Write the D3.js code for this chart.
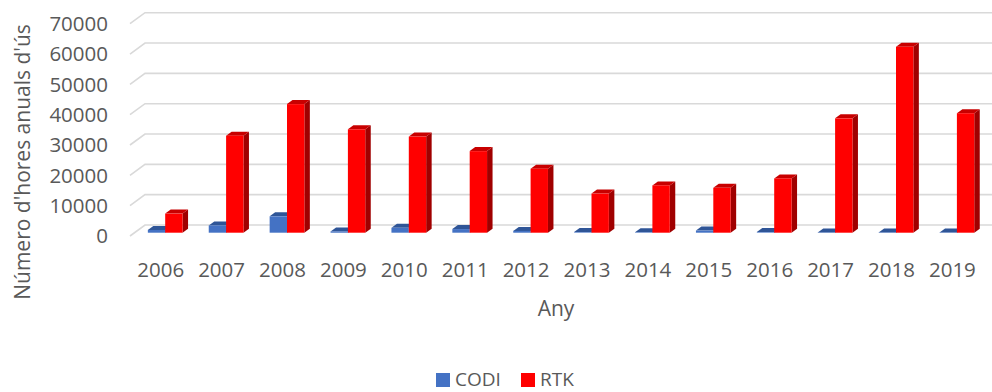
<!DOCTYPE html>
<html>
<head>
<meta charset="utf-8">
<script src="https://cdn.jsdelivr.net/npm/d3@7/dist/d3.min.js"></script>
<style>
  html, body { margin: 0; padding: 0; background: #fff; }
  svg { display: block; font-family: "Open Sans", sans-serif; }
</style>
</head>
<body>
<svg id="chart" width="992" height="392"></svg>
<script>
// Annual usage hours per service
const years = ["2006","2007","2008","2009","2010","2011","2012","2013","2014","2015","2016","2017","2018","2019"];
const codi  = [900, 2400, 5400, 400, 1600, 1200, 600, 200, 150, 700, 200, 100, 100, 100];
const rtk   = [6300, 32000, 42400, 34100, 31700, 26900, 21100, 12900, 15600, 14800, 17900, 37700, 61300, 39400];
const seriesNames = ["CODI", "RTK"];
const yTicks = [0, 10000, 20000, 30000, 40000, 50000, 60000, 70000];

const palette = {
  CODI: { front: "#4472C4", top: "#2F5597", side: "#2B4E8C" },
  RTK:  { front: "#FF0000", top: "#C80000", side: "#A00000" }
};

const svg = d3.select("#chart");

// Oblique projection: floor depth vector from back wall to front edge
const depth = { dx: -15, dy: 11 };
const barT = 0.7;          // bar front face position along the depth
const barDepth = { dx: 5.5, dy: -4 };

// Scales on the back wall plane
const y = d3.scaleLinear().domain([0, 70000]).range([225, 12.7]);
const x = d3.scaleBand().domain(years).range([145.25, 997.85])
  .paddingInner(0.43).paddingOuter(0.215);
const xs = d3.scaleBand().domain(seriesNames).range([0, x.bandwidth()]).padding(0);

// Gridlines: back wall horizontal line plus the diagonal floor/side edge
const grid = svg.append("g").attr("fill", "none").attr("stroke", "#d9d9d9").attr("stroke-width", 1.6);
yTicks.forEach(v => {
  const yy = y(v);
  grid.append("path")
    .attr("d", `M${145 + depth.dx},${yy + depth.dy} L145,${yy} L992,${yy}`);
});

// Y axis tick labels at the front edge
svg.append("g").selectAll("text").data(yTicks).join("text")
  .attr("x", 108).attr("y", d => y(d) + depth.dy)
  .attr("dy", "0.36em")
  .attr("text-anchor", "end")
  .attr("font-size", 20.5).attr("fill", "#595959")
  .text(d => d);

// Bars
const ox = depth.dx * barT, oy = depth.dy * barT;
const bars = svg.append("g");
years.forEach((yr, i) => {
  const vals = { CODI: codi[i], RTK: rtk[i] };
  seriesNames.forEach(s => {
    const c = palette[s];
    const x0 = x(yr) + xs(s) + ox;
    const w = xs.bandwidth();
    const yb = y(0) + oy;
    const yt = y(vals[s]) + oy;
    const g = bars.append("g");
    // side face
    g.append("path").attr("fill", c.side)
      .attr("d", `M${x0 + w},${yb} L${x0 + w + barDepth.dx},${yb + barDepth.dy} L${x0 + w + barDepth.dx},${yt + barDepth.dy} L${x0 + w},${yt} Z`);
    // top face
    g.append("path").attr("fill", c.top)
      .attr("d", `M${x0},${yt} L${x0 + w},${yt} L${x0 + w + barDepth.dx},${yt + barDepth.dy} L${x0 + barDepth.dx},${yt + barDepth.dy} Z`);
    // front face
    g.append("rect").attr("fill", c.front)
      .attr("x", x0).attr("y", yt).attr("width", w).attr("height", Math.max(0, yb - yt));
  });
});

// Category labels along the front floor edge
svg.append("g").selectAll("text").data(years).join("text")
  .attr("x", d => x(d) + x.bandwidth() / 2 + depth.dx)
  .attr("y", 270).attr("dy", "0.36em")
  .attr("text-anchor", "middle")
  .attr("font-size", 20.5).attr("fill", "#595959")
  .text(d => d);

// Axis titles
svg.append("text")
  .attr("x", 556).attr("y", 308).attr("dy", "0.36em")
  .attr("text-anchor", "middle")
  .attr("font-size", 21).attr("fill", "#595959")
  .text("Any");

svg.append("text")
  .attr("transform", "translate(22,162) rotate(-90)")
  .attr("dy", "0.36em")
  .attr("text-anchor", "middle")
  .attr("font-size", 21).attr("fill", "#595959")
  .text("Número d'hores anuals d'ús");

// Legend
const legendItems = [
  { name: "CODI", sx: 436, tx: 455 },
  { name: "RTK", sx: 521, tx: 540 }
];
const legend = svg.append("g");
legendItems.forEach(it => {
  legend.append("rect").attr("x", it.sx).attr("y", 373).attr("width", 14).attr("height", 14)
    .attr("fill", palette[it.name].front);
  legend.append("text").attr("x", it.tx).attr("y", 386)
    .attr("font-size", 19).attr("fill", "#595959").text(it.name);
});
</script>
</body>
</html>
